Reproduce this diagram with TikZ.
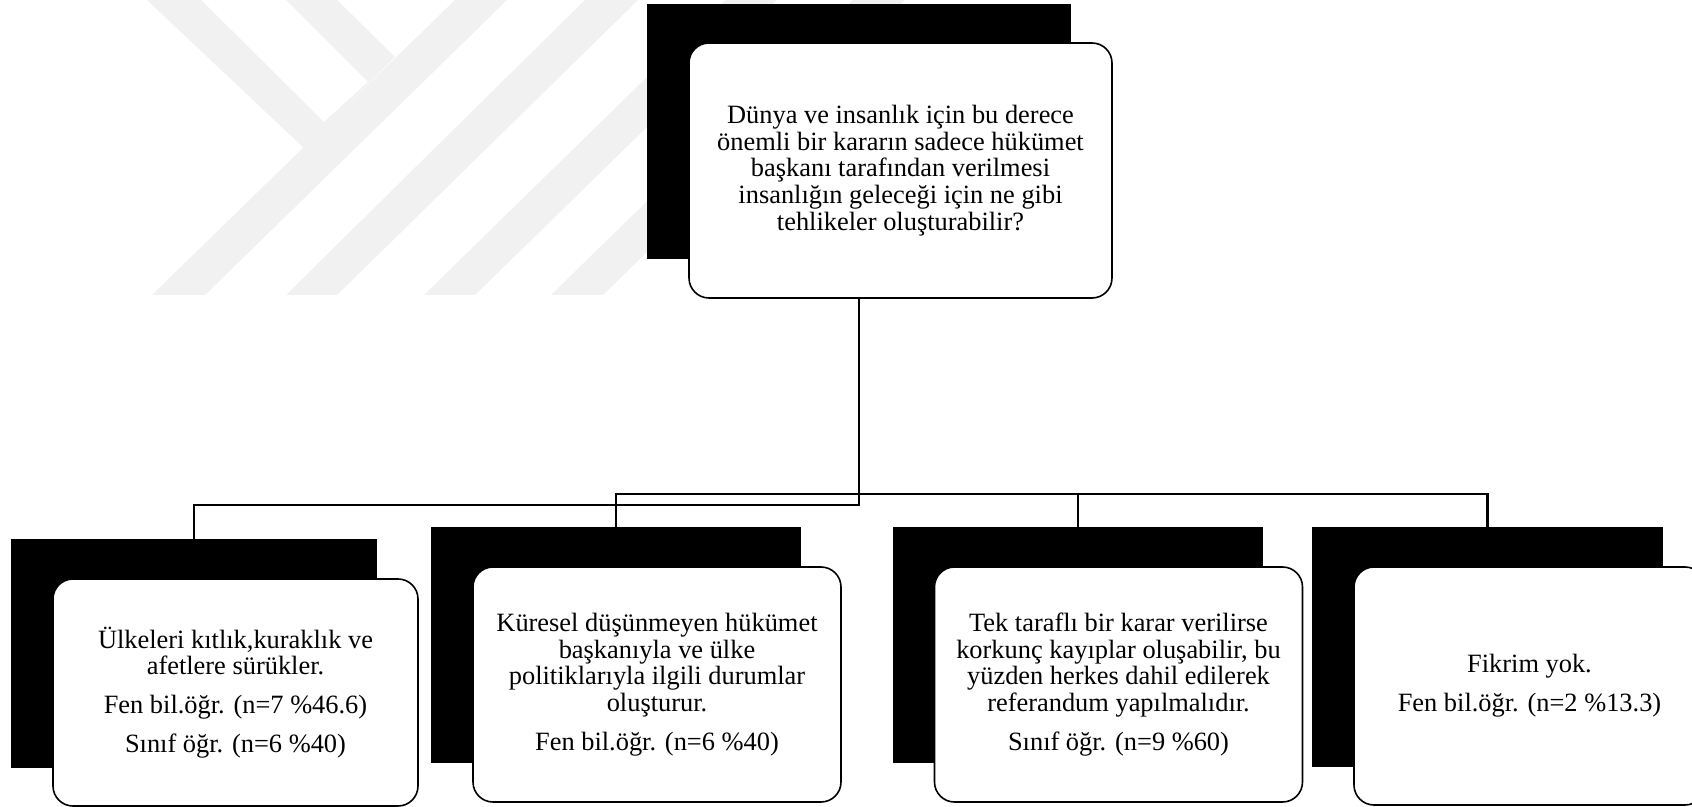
\documentclass[tikz,border=0pt]{standalone}
\usepackage{fontspec}
\setmainfont{Liberation Serif}
\definecolor{wm}{RGB}{241,241,241}
\tikzset{
  backdrop/.style={rectangle, fill=black, draw=none, inner sep=0pt},
  card/.style={rectangle, rounded corners=10pt, fill=white, draw=black, line width=0.8pt,
    inner sep=0pt, align=center, font={\fontsize{13.2}{13.4}\selectfont}},
  link/.style={draw=black, line width=1.4pt},
  stripe/.style={fill=wm, draw=none}
}
\begin{document}
\begin{tikzpicture}[x=0.5pt, y=-0.5pt]
\clip (0,0) rectangle (1692,807);
\fill[white] (0,0) rectangle (1692,807);

% faint diagonal background mark
\fill[stripe] (147,0) -- (201,0) -- (324,122) -- (368,82) -- (286,0) -- (337,0) -- (395,57) -- (304,148) -- cycle;
\fill[stripe] (152,295) -- (205,295) -- (507,0) -- (455,0) -- cycle;
\fill[stripe] (286,295) -- (337,295) -- (638,0) -- (585,0) -- cycle;
\fill[stripe] (424,295) -- (475,295) -- (777,0) -- (726,0) -- cycle;
\fill[stripe] (551,295) -- (603,295) -- (905,0) -- (853,0) -- cycle;

% black backdrops
\node[backdrop, minimum width=212pt, minimum height=127.5pt] (qs) at (859,131.5) {};
\node[backdrop, minimum width=183pt, minimum height=114.5pt] (a1s) at (194,653.5) {};
\node[backdrop, minimum width=185pt, minimum height=118pt] (a2s) at (616,645) {};
\node[backdrop, minimum width=185pt, minimum height=118pt] (a3s) at (1078,645) {};
\node[backdrop, minimum width=175.5pt, minimum height=120pt] (a4s) at (1487.5,647) {};

% connectors
\coordinate (j1) at (859,494);
\coordinate (j2) at (859,505);
\draw[link] (qs.south) -- (j2) -| (a1s.north);
\draw[link] (j1) -| (a2s.north);
\draw[link] (j1) -| (a3s.north);
\draw[link] (j1) -| (a4s.north);

% text cards
\node[card, minimum width=211.5pt, minimum height=127.5pt] (q) at (900.5,170.5)
  {Dünya ve insanlık için bu derece\\önemli bir kararın sadece hükümet\\başkanı tarafından verilmesi\\insanlığın geleceği için ne gibi\\tehlikeler oluşturabilir?};
\node[card, minimum width=182.5pt, minimum height=113.5pt] (a1) at (235.5,692.5)
  {Ülkeleri kıtlık,kuraklık ve\\afetlere sürükler.\\[6pt] Fen bil.öğr. (n=7 \%46.6)\\[6pt]Sınıf öğr. (n=6 \%40)};
\node[card, minimum width=184pt, minimum height=117.5pt] (a2) at (657,684.5)
  {Küresel düşünmeyen hükümet\\başkanıyla ve ülke\\politiklarıyla ilgili durumlar\\oluşturur.\\[6pt]Fen bil.öğr. (n=6 \%40)};
\node[card, minimum width=184pt, minimum height=117.5pt] (a3) at (1118.5,684.5)
  {Tek taraflı bir karar verilirse\\korkunç kayıplar oluşabilir, bu\\yüzden herkes dahil edilerek\\referandum yapılmalıdır.\\[6pt]Sınıf öğr. (n=9 \%60)};
\node[card, minimum width=175.5pt, minimum height=119pt] (a4) at (1529.5,686)
  {Fikrim yok.\\[6pt]Fen bil.öğr. (n=2 \%13.3)};
\end{tikzpicture}
\end{document}
